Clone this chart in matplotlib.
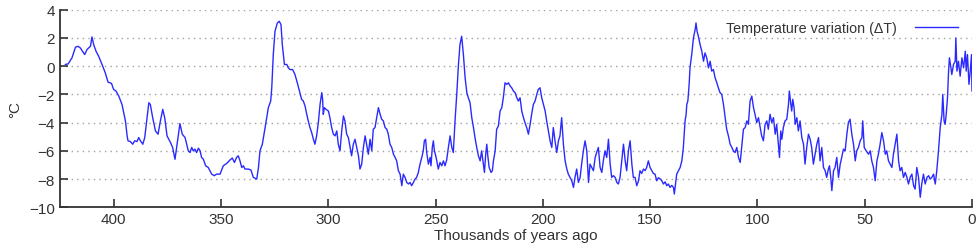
import matplotlib
matplotlib.use("Agg")
from matplotlib import pyplot as plt

# thousands of years ago
age = [
    422.5, 421.2, 419.4, 417.8, 416.6, 415.5, 413.5, 412.4, 410.8, 410.1,
    409.3, 408.2, 407.0, 405.4, 403.9, 402.6, 401.0, 400.0, 398.9, 397.6,
    396.1, 394.5, 393.7, 393.3, 392.2, 391.1, 390.2, 389.1, 388.3, 387.5,
    386.4, 385.5, 384.4, 383.6, 382.9, 381.8, 380.5, 379.3, 378.2, 377.1,
    376.2, 375.1, 373.5, 372.5,
    371.4, 369.1, 368.0, 366.7, 365.2, 364.4, 363.6, 362.9, 362.1, 361.3,
    360.5, 359.7, 359.0, 358.2, 357.1, 355.9, 354.3, 353.1, 352.0, 350.4,
    348.9, 347.3, 345.8, 344.7, 343.7, 342.7, 341.9, 341.1, 340.3, 339.5,
    338.8, 337.2, 336.0, 334.9, 333.3, 332.5, 331.8, 330.7, 329.4, 327.9,
    326.8, 326.3, 325.6, 324.8, 323.7, 322.8, 322.0, 321.4, 320.4, 319.3,
    318.6,
    317.8, 316.6, 315.5, 314.4, 313.4, 312.4, 311.6, 310.8, 310.0, 309.3,
    308.5, 307.7, 306.9, 306.2, 305.4, 304.6, 303.8, 303.0, 302.6, 302.3,
    301.8, 301.0, 299.9, 299.2, 298.4, 297.6, 296.8, 296.0, 295.3, 294.5,
    293.7, 292.9, 292.2, 291.4, 290.6, 289.8, 289.1, 288.3, 287.5, 286.7,
    285.9, 285.2, 284.4, 283.6, 282.8, 282.1, 281.3, 280.5, 279.7, 279.0,
    278.2, 277.4, 276.6, 275.8, 275.1, 274.3, 273.5, 272.7, 272.0, 271.2,
    270.4, 269.6, 268.8, 268.1, 267.3, 266.5, 265.7, 265.0,
    264.2, 263.4, 262.6, 261.9, 261.1, 260.3, 259.5, 258.8, 258.0, 257.2,
    256.4, 255.7, 255.2, 254.6, 254.1, 253.3, 252.5, 252.1, 251.5, 251.0,
    250.5, 249.9, 249.4, 248.7, 247.9, 247.1, 246.3, 245.6, 244.8, 244.0,
    243.2, 242.4, 241.7, 240.9, 240.1, 239.3, 238.6, 237.8, 237.0, 236.2,
    235.4, 234.7, 233.9, 233.1, 232.3, 231.6, 230.8, 230.0, 229.2, 228.5,
    227.7, 227.2, 226.6, 226.1, 225.7, 225.0, 224.1, 223.5, 223.0, 222.2,
    221.5, 220.7, 219.9, 219.1, 218.4, 217.6, 216.8, 216.0, 215.2, 214.5,
    213.7, 212.9, 212.1, 211.4,
    210.6, 209.8, 209.0, 208.3, 207.5, 206.7, 205.9, 205.2, 204.4, 203.6,
    202.8, 202.1, 201.3, 200.5, 199.7, 198.9, 198.2, 197.4, 196.6, 195.8,
    195.1, 194.3, 193.5, 192.7, 192.0, 191.2, 190.4, 189.6, 188.8, 188.1,
    187.3, 186.5, 185.7, 185.0, 184.2, 183.4, 182.6, 181.9, 181.1, 180.3,
    179.5, 178.7, 178.0, 177.2, 176.4, 175.6, 174.9, 174.1, 173.3, 172.5,
    171.8, 171.0, 170.2, 169.4, 168.6, 167.9, 167.1, 166.3, 165.5, 164.8,
    164.0, 163.2, 162.4, 161.6, 160.9, 160.1, 159.3, 158.5, 157.8,
    157.0, 156.2, 155.4, 154.7, 153.9, 153.1, 152.3, 151.6, 150.8, 150.0,
    149.2, 148.5, 147.7, 146.9, 146.1, 145.3, 144.6, 143.8, 143.0, 142.2,
    141.5, 140.7, 139.9, 139.1, 138.7, 138.0, 137.6, 136.8, 136.0, 135.2,
    134.5, 134.0, 133.7, 133.2, 132.9, 132.4, 131.8, 131.4, 130.6, 129.8,
    129.0, 128.6, 128.1, 127.5, 126.7, 125.9, 125.1, 124.4, 123.6, 122.8,
    122.0, 121.3, 120.5, 119.7, 118.9, 118.2, 117.4, 116.6, 115.8, 115.0,
    114.3, 113.5, 112.7, 111.9, 111.2, 110.4, 109.6, 108.8, 108.0, 107.3,
    106.5, 105.7, 104.9, 104.2,
    103.4, 102.6, 101.8, 101.1, 100.3, 99.5, 98.7, 98.0, 97.2, 96.4,
    95.6, 94.9, 94.1, 93.3, 92.5, 91.7, 91.0, 90.2, 89.7, 89.1,
    88.6, 87.9, 87.1, 86.3, 85.5, 85.1, 84.4, 84.0, 83.5, 82.9,
    82.4, 81.6, 80.9, 80.1, 79.3, 78.5, 77.8, 77.0, 76.2, 75.4,
    74.7, 73.9, 73.1, 72.3, 71.5, 70.8, 70.0, 69.2, 68.4, 67.7,
    66.9, 66.4, 65.8, 65.3, 64.5, 63.8, 63.0, 62.2, 61.4, 60.7,
    59.9, 59.1, 58.3, 57.6, 56.8, 56.0, 55.2, 54.4, 53.7, 52.9,
    52.1, 51.3, 50.9, 50.2, 49.3, 48.2, 47.4, 46.7, 45.9, 45.1,
    44.3, 43.6, 42.8, 42.0, 41.2, 40.4, 39.7, 38.9, 38.1, 37.3,
    36.6, 35.8, 35.0, 34.2, 33.5, 32.7, 31.9, 31.1, 30.3, 29.6,
    28.8, 28.0, 27.2, 26.5, 25.7, 24.9, 24.1, 23.4, 22.6, 21.8,
    21.0, 20.2, 19.5, 18.7, 17.9, 17.1, 16.4, 15.6, 14.8, 14.0,
    13.6, 13.0, 12.5, 12.0, 11.4, 10.9, 10.5, 9.8, 9.4, 8.6,
    7.8, 7.5, 7.0, 6.3, 5.5, 4.7, 3.9, 3.1, 2.7, 2.1,
    1.4, 0.8, 0.2, 0.0,
]

# temperature variation, deg C
temp = [
    0.12, 0.16, 0.59, 1.34, 1.41, 1.29, 0.82, 1.18, 1.41, 2.07,
    1.53, 1.06, 0.71, 0.12, -0.47, -1.13, -1.22, -1.65, -1.76, -2.12,
    -2.71, -3.88, -4.94, -5.29, -5.34, -5.53, -5.29, -5.34, -5.06, -5.29,
    -5.53, -5.06, -3.65, -2.59, -2.71, -3.65, -4.59, -4.82, -3.88, -3.06,
    -3.65, -4.94, -5.41, -5.76,
    -6.6, -4.07, -4.82, -5.06, -6.0, -6.12, -5.76, -6.0, -5.88, -6.12,
    -5.81, -6.0, -6.47, -6.59, -7.06, -7.18, -7.65, -7.76, -7.65, -7.65,
    -7.06, -6.89, -6.65, -6.51, -6.82, -6.47, -6.35, -6.71, -7.18, -7.06,
    -7.29, -7.29, -7.36, -7.88, -8.0, -7.18, -6.0, -5.53, -4.35, -2.94,
    -2.47, -1.53, 0.82, 2.47, 3.06, 3.18, 2.94, 1.53, 0.12, 0.12,
    -0.12,
    -0.24, -0.24, -0.59, -1.18, -1.76, -2.35, -2.47, -2.82, -3.41, -3.88,
    -4.35, -4.71, -5.18, -5.53, -4.94, -4.0, -2.71, -1.88, -2.35, -3.41,
    -2.94, -3.06, -3.18, -3.65, -4.35, -4.82, -4.94, -4.59, -5.53, -6.0,
    -4.59, -3.53, -3.88, -4.82, -5.06, -5.76, -6.35, -5.53, -5.18, -5.76,
    -6.35, -7.29, -6.94, -5.76, -4.94, -5.53, -6.24, -5.18, -6.0, -4.47,
    -4.35, -3.65, -2.94, -3.41, -3.76, -3.88, -4.35, -4.47, -4.82, -5.53,
    -5.76, -6.24, -6.47, -6.71, -7.41, -7.65, -8.47, -7.65,
    -7.88, -8.24, -8.35, -8.24, -8.47, -8.24, -8.0, -7.88, -7.53, -6.94,
    -6.47, -6.0, -5.29, -5.18, -6.12, -6.94, -6.47, -7.06, -5.76, -5.29,
    -6.0, -6.35, -6.71, -7.29, -6.82, -7.06, -6.71, -7.06, -6.66, -5.76,
    -4.94, -5.76, -6.12, -3.88, -2.0, 0.12, 1.53, 2.12, 0.82, -0.82,
    -1.88, -2.24, -2.59, -3.65, -4.35, -5.06, -5.76, -6.35, -6.71, -6.0,
    -6.94, -7.53, -6.24, -5.53, -6.24, -7.18, -7.53, -7.41, -6.71, -6.0,
    -4.47, -4.24, -3.18, -2.94, -2.24, -1.18, -1.29, -1.18, -1.41, -1.53,
    -1.76, -1.88, -2.24, -2.47,
    -2.24, -3.18, -3.65, -4.0, -4.35, -4.82, -4.12, -3.41, -2.71, -2.47,
    -2.0, -1.65, -1.53, -2.24, -2.71, -3.18, -3.88, -4.59, -5.29, -5.76,
    -4.35, -5.29, -6.12, -5.29, -4.94, -3.65, -5.53, -6.71, -7.29, -7.65,
    -7.88, -8.12, -8.59, -7.88, -7.29, -8.24, -7.88, -6.94, -6.0, -5.29,
    -6.0, -8.24, -6.94, -7.18, -7.41, -6.47, -6.12, -5.76, -7.18, -7.53,
    -6.71, -6.0, -6.47, -5.18, -6.94, -7.88, -7.76, -7.88, -8.24, -8.35,
    -7.88, -6.71, -5.53, -6.71, -7.41, -6.0, -5.29, -6.94, -7.88,
    -7.88, -8.47, -8.12, -7.41, -7.6, -7.29, -7.4, -7.18, -6.71, -7.18,
    -7.41, -7.6, -7.65, -8.12, -7.9, -8.0, -8.1, -8.35, -8.2, -8.47,
    -8.35, -8.59, -8.45, -8.59, -9.06, -8.12, -7.65, -7.41, -7.18, -6.71,
    -5.76, -4.59, -3.88, -3.41, -2.71, -2.47, -1.29, -0.12, 0.82, 2.0,
    2.59, 3.06, 2.47, 2.12, 1.53, 1.06, 0.35, 0.94, 0.59, -0.12,
    0.35, -0.35, -0.24, -0.82, -1.18, -1.53, -1.88, -2.0, -2.71, -3.65,
    -4.47, -4.94, -5.53, -5.76, -6.0, -6.12, -5.76, -6.47, -6.82, -5.76,
    -4.47, -4.35, -3.88, -4.12,
    -2.47, -2.12, -2.94, -3.41, -4.0, -3.65, -4.35, -4.94, -5.29, -4.12,
    -3.88, -4.47, -3.41, -4.0, -3.65, -4.82, -4.12, -5.53, -6.47, -4.59,
    -5.18, -4.35, -3.88, -3.76, -2.71, -1.76, -2.71, -3.18, -2.35, -2.94,
    -4.12, -3.65, -4.59, -3.88, -5.06, -5.53, -6.94, -5.76, -4.82, -5.18,
    -5.76, -6.94, -6.24, -5.53, -5.06, -6.71, -5.76, -7.18, -7.41, -7.88,
    -7.29, -7.06, -7.88, -8.82, -7.41, -7.18, -6.47, -7.88, -6.94, -6.47,
    -5.88, -6.0, -4.82, -4.0, -3.76, -4.82, -5.53, -6.71, -6.0, -5.76,
    -5.29, -5.06, -3.88, -5.76, -6.0, -6.24, -6.0, -6.71, -7.18, -8.12,
    -6.71, -6.24, -5.53, -4.71, -5.29, -6.24, -6.0, -6.71, -6.94, -7.18,
    -6.24, -5.53, -4.82, -6.71, -7.41, -7.18, -7.88, -7.53, -7.88, -8.35,
    -7.88, -7.65, -8.47, -8.71, -7.18, -7.88, -9.29, -8.35, -7.65, -8.35,
    -7.88, -7.76, -8.0, -7.88, -7.65, -8.35, -7.41, -6.0, -4.35, -3.41,
    -2.0, -3.88, -4.12, -3.41, -2.24, -0.35, 0.59, -0.12, -0.59, 0.12,
    0.35, 2.0, -0.35, 0.35, -0.71, 0.59, -0.12, 1.06, -0.35, 0.82,
    -1.29, -0.35, 0.82, -1.76,
]

plt.rcParams['font.family'] = ['Liberation Sans', 'DejaVu Sans']

fig = plt.figure(figsize=(9.8, 2.53), dpi=100)
ax = fig.add_axes([0.0612, 0.1767, 0.9306, 0.781])

ax.plot(age, temp, color='#2a2aff', lw=1.0, label='Temperature variation (ΔT)')

ax.set_xlim(425, 0)
ax.set_ylim(-10, 4)
ax.set_xticks([400, 350, 300, 250, 200, 150, 100, 50, 0])
ax.set_yticks(range(-10, 5, 2))
ax.set_yticklabels([str(v).replace('-', '\u2212') for v in range(-10, 5, 2)])

ax.yaxis.grid(True, color='#a0a0a0', linestyle=(0, (1, 3)), lw=1)
ax.set_axisbelow(True)

for s in ['top', 'right']:
    ax.spines[s].set_visible(False)
for s in ['left', 'bottom']:
    ax.spines[s].set_color('#333333')
    ax.spines[s].set_linewidth(1.3)
ax.tick_params(direction='in', length=6, width=1.2, colors='#333333',
               labelcolor='#333333', labelsize=11)

ax.set_xlabel('Thousands of years ago', color='#333333', fontsize=11, labelpad=1)
ax.set_ylabel('°C', color='#333333', fontsize=11, labelpad=5)

ax.legend(loc='upper right', frameon=False, markerfirst=False,
          handlelength=3.0, fontsize=10.3, bbox_to_anchor=(0.999, 1.01),
          labelcolor='#333333', handletextpad=1.3)

fig.savefig('out.png', dpi=100)
